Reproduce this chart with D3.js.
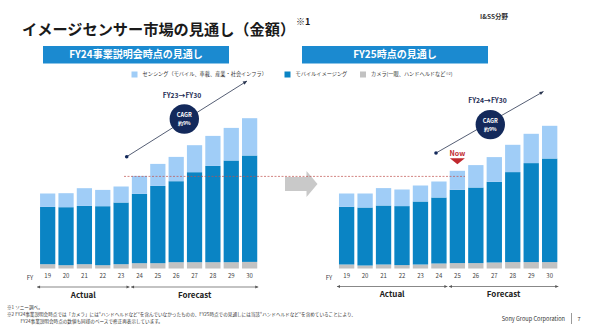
<!DOCTYPE html>
<html>
<head>
<meta charset="utf-8">
<script src="https://cdn.jsdelivr.net/npm/d3@7"></script>
<style>
  body { margin: 0; background: #fff; }
  svg { display: block; }
  text { font-family: "Noto Sans CJK JP", "Noto Sans", sans-serif; }
</style>
</head>
<body>
<svg id="chart" width="590" height="331"></svg>
<script>
// Fiscal years on the category axis
const years = ["19", "20", "21", "22", "23", "24", "25", "26", "27", "28", "29", "30"];

// Series names (legend order) and colours
const seriesLabels = ["センシング（モバイル、車載、産業・社会インフラ）", "モバイルイメージング", "カメラ(一眼、ハンドヘルドなど"];
const seriesColors = ["#a0cdf7", "#0a84c4", "#c2c2c2"];

// Outlook at the FY24 business briefing (relative market size)
const fy24Camera  = [4.3, 3.3, 4.3, 3.3, 4.3, 5.3, 5.3, 6.3, 6.3, 6.3, 6.3, 6.6];
const fy24Mobile  = [57.3, 58.0, 58.3, 59.0, 61.7, 69.3, 77.3, 81.0, 90.0, 96.3, 101.7, 106.4];
const fy24Sensing = [13.4, 14.0, 17.7, 16.3, 16.0, 18.0, 22.0, 24.3, 27.0, 30.0, 32.6, 37.3];

// Outlook as of FY25
const fy25Camera  = [4.0, 3.0, 4.0, 3.4, 4.0, 5.0, 5.4, 5.4, 6.0, 6.4, 6.4, 6.4];
const fy25Mobile  = [57.7, 58.0, 59.0, 59.0, 63.0, 66.0, 73.3, 75.6, 80.7, 90.0, 99.0, 103.6];
const fy25Sensing = [13.3, 14.0, 17.4, 16.6, 16.0, 16.0, 19.0, 22.4, 24.7, 27.3, 29.3, 32.7];

// Header and annotation texts
const panelTitles = ["FY24事業説明会時点の見通し", "FY25時点の見通し"];
const cagrRanges = ["FY23→FY30", "FY24→FY30"];
const cagrValue = "約9%";

const svg = d3.select("#chart");
svg.append("rect").attr("width", 590).attr("height", 331).attr("fill", "#fff");

// Page title
svg.append("text").attr("x", 22).attr("y", 35)
  .attr("font-size", 15.2).attr("font-weight", 700).attr("fill", "#1a1a1a")
  .text("イメージセンサー市場の見通し（金額）");
svg.append("text").attr("x", 296).attr("y", 25)
  .attr("font-size", 9).attr("font-weight", 700).attr("fill", "#1a1a1a")
  .text("※1");
svg.append("text").attr("x", 508).attr("y", 19).attr("text-anchor", "end")
  .attr("font-size", 6.5).attr("font-weight", 700).attr("fill", "#333")
  .text("I&SS分野");

// Panel header bars
const headers = [{x0: 43, x1: 229}, {x0: 302, x1: 488}];
headers.forEach((h, i) => {
  svg.append("rect").attr("x", h.x0).attr("y", 46).attr("width", h.x1 - h.x0).attr("height", 17.5)
    .attr("fill", "#1b8ad0");
  svg.append("text").attr("x", (h.x0 + h.x1) / 2).attr("y", 58.2).attr("text-anchor", "middle")
    .attr("font-size", 10).attr("font-weight", 700).attr("fill", "#fff")
    .text(panelTitles[i]);
});

// Legend
const legend = svg.append("g");
const legendItems = [{x: 131.5}, {x: 284.5}, {x: 360}];
legendItems.forEach((it, i) => {
  legend.append("rect").attr("x", it.x).attr("y", 71.5).attr("width", 6).attr("height", 6)
    .attr("fill", seriesColors[i]);
  const t = legend.append("text").attr("x", it.x + 11).attr("y", 76.4)
    .attr("font-size", 5.2).attr("fill", "#333").text(seriesLabels[i]);
  if (i === 2) {
    t.append("tspan").attr("font-size", 3.4).attr("dy", -1.6).text("※2");
    t.append("tspan").attr("dy", 1.6).text(")");
  }
});

// Shared vertical scale
const y = d3.scaleLinear().domain([0, 150]).range([268.5, 118.5]);

function drawPanel(camera, mobile, sensing, range) {
  const x = d3.scaleBand().domain(years).range(range).paddingInner(0.17).paddingOuter(0.085);
  const rows = years.map((yr, i) => ({year: yr, camera: camera[i], mobile: mobile[i], sensing: sensing[i]}));
  const keys = ["camera", "mobile", "sensing"];
  const colors = {camera: seriesColors[2], mobile: seriesColors[1], sensing: seriesColors[0]};
  const stacked = d3.stack().keys(keys)(rows);
  const g = svg.append("g");
  g.selectAll("g.layer").data(stacked).join("g").attr("class", "layer")
    .attr("fill", d => colors[d.key])
    .selectAll("rect").data(d => d).join("rect")
    .attr("x", d => x(d.data.year))
    .attr("width", x.bandwidth())
    .attr("y", d => y(d[1]))
    .attr("height", d => y(d[0]) - y(d[1]));

  // Year labels
  const axis = d3.axisBottom(x).tickSize(0).tickPadding(0);
  const ax = g.append("g").attr("transform", "translate(0,275)").call(axis);
  ax.select(".domain").remove();
  ax.selectAll("text").attr("font-size", 6).attr("fill", "#444")
    .attr("font-family", "'Noto Sans', sans-serif").attr("dy", "0.55em");
  g.append("text").attr("x", range[0] - 8.5).attr("y", 280.2).attr("text-anchor", "middle")
    .attr("font-size", 6).attr("fill", "#444").attr("font-family", "'Noto Sans', sans-serif")
    .text("FY");
  return {x, stacked, rows};
}

const left = drawPanel(fy24Camera, fy24Mobile, fy24Sensing, [38.5, 258.8]);
const right = drawPanel(fy25Camera, fy25Mobile, fy25Sensing, [337.4, 558.9]);

// Actual / Forecast ranges under each panel
function periodArrow(x0, x1, yy, label) {
  const g = svg.append("g");
  g.append("line").attr("x1", x0).attr("x2", x1).attr("y1", yy).attr("y2", yy)
    .attr("stroke", "#555").attr("stroke-width", 0.7);
  g.append("path").attr("d", `M${x0},${yy} l3,-1.4 l0,2.8 z`).attr("fill", "#555");
  g.append("path").attr("d", `M${x1},${yy} l-3,-1.4 l0,2.8 z`).attr("fill", "#555");
  g.append("text").attr("x", (x0 + x1) / 2).attr("y", yy + 10.5).attr("text-anchor", "middle")
    .attr("font-size", 8).attr("font-weight", 700).attr("fill", "#222")
    .attr("font-family", "'Open Sans', 'Noto Sans', sans-serif")
    .text(label);
}
function splitAt(p, splitYear) {
  const bw = p.x.bandwidth();
  const start = p.x(years[0]) - 3;
  const end = p.x(years[years.length - 1]) + bw + 1;
  const i = years.indexOf(splitYear);
  const gapMid = (p.x(years[i - 1]) + bw + p.x(splitYear)) / 2;
  return {start, end, gapMid};
}
const ls = splitAt(left, "24");
periodArrow(ls.start, ls.gapMid - 0.8, 287, "Actual");
periodArrow(ls.gapMid + 0.8, ls.end, 287, "Forecast");
const rs = splitAt(right, "25");
periodArrow(rs.start + 1, rs.gapMid - 0.8, 286.5, "Actual");
periodArrow(rs.gapMid + 0.8, rs.end, 286.5, "Forecast");

// Transition arrow between panels
svg.append("path")
  .attr("d", "M285,177 L306.5,177 L306.5,171 L317.5,184 L306.5,197 L306.5,191 L285,191 Z")
  .attr("fill", "#c9c9c9");

// Reference line at the FY24 total of the earlier outlook
const refTotal = fy24Camera[5] + fy24Mobile[5] + fy24Sensing[5];
svg.append("line").attr("x1", 124).attr("x2", 465)
  .attr("y1", y(refTotal) + 0.5).attr("y2", y(refTotal) + 0.5)
  .attr("stroke", "#c0504d").attr("stroke-width", 0.7).attr("stroke-dasharray", "2,1.5");

// CAGR annotations
function cagr(dot, tip, circle, labelPos, rangeText) {
  const navy = "#13295b";
  const g = svg.append("g");
  g.append("line").attr("x1", dot[0]).attr("y1", dot[1]).attr("x2", tip[0]).attr("y2", tip[1])
    .attr("stroke", "#2a3550").attr("stroke-width", 0.8);
  g.append("circle").attr("cx", dot[0]).attr("cy", dot[1]).attr("r", 1.8).attr("fill", navy);
  const ang = Math.atan2(tip[1] - dot[1], tip[0] - dot[0]) * 180 / Math.PI;
  g.append("path").attr("d", "M0,0 L-4,-1.8 L-4,1.8 Z").attr("fill", "#2a3550")
    .attr("transform", `translate(${tip[0]},${tip[1]}) rotate(${ang})`);
  g.append("circle").attr("cx", circle[0]).attr("cy", circle[1]).attr("r", 14.7).attr("fill", navy);
  g.append("text").attr("x", circle[0]).attr("y", circle[1] - 1.6).attr("text-anchor", "middle")
    .attr("font-size", 5.6).attr("font-weight", 700).attr("fill", "#fff")
    .attr("font-family", "'Open Sans', 'Noto Sans', sans-serif").text("CAGR");
  g.append("text").attr("x", circle[0]).attr("y", circle[1] + 6.2).attr("text-anchor", "middle")
    .attr("font-size", 5).attr("font-weight", 700).attr("fill", "#fff").text(cagrValue);
  g.append("text").attr("x", labelPos[0]).attr("y", labelPos[1]).attr("text-anchor", "middle")
    .attr("font-size", 6.8).attr("font-weight", 700).attr("fill", "#1e2d55")
    .attr("font-family", "'Open Sans', 'Noto Sans', sans-serif").text(rangeText);
}
cagr([126.7, 156.7], [247, 81], [184.3, 119], [182, 97.5], cagrRanges[0]);
cagr([436, 153], [543.5, 91.5], [490.3, 124.6], [487.5, 102.5], cagrRanges[1]);

// "Now" marker above the FY25 bar of the current outlook
const nowX = right.x("25") + right.x.bandwidth() / 2;
svg.append("text").attr("x", nowX).attr("y", 156).attr("text-anchor", "middle")
  .attr("font-size", 7).attr("font-weight", 700).attr("fill", "#c0282e")
  .attr("font-family", "'Open Sans', 'Noto Sans', sans-serif").text("Now");
svg.append("path").attr("d", `M${nowX - 7.5},158.3 L${nowX + 7.5},158.3 L${nowX},164.3 Z`)
  .attr("fill", "#c0282e");

// Footnotes
const notes = svg.append("g").attr("font-size", 4.6).attr("fill", "#333");
notes.append("text").attr("x", 7).attr("y", 309).text("※1 ソニー調べ。");
notes.append("text").attr("x", 7).attr("y", 316)
  .text("※2 FY24事業説明会時点では「カメラ」には“ハンドヘルドなど”を含んでいなかったものの、FY25時点での見通しには当該“ハンドヘルドなど”を含めていることにより、");
notes.append("text").attr("x", 20.5).attr("y", 323)
  .text("FY24事業説明会時点の数値も同様のベースで修正再表示しています。");

// Footer
svg.append("text").attr("x", 565).attr("y", 321).attr("text-anchor", "end")
  .attr("font-size", 5.6).attr("fill", "#333")
  .attr("font-family", "'Open Sans', 'Noto Sans', sans-serif").text("Sony Group Corporation");
svg.append("line").attr("x1", 571.5).attr("x2", 571.5).attr("y1", 313).attr("y2", 324)
  .attr("stroke", "#555").attr("stroke-width", 0.6);
svg.append("text").attr("x", 579).attr("y", 321).attr("text-anchor", "middle")
  .attr("font-size", 5.6).attr("fill", "#333")
  .attr("font-family", "'Open Sans', 'Noto Sans', sans-serif").text("7");
</script>
</body>
</html>
